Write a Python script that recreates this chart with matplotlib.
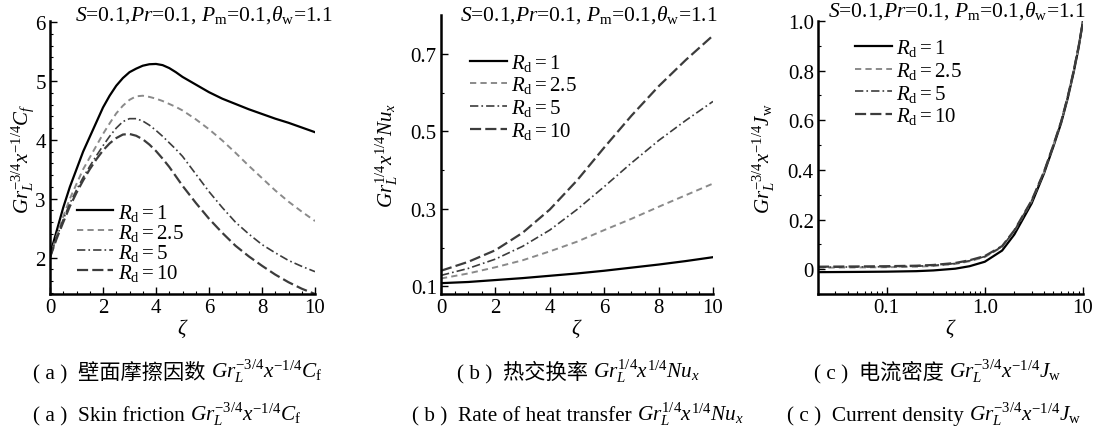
import numpy as np
import matplotlib
matplotlib.use("Agg")
import matplotlib.pyplot as plt
from matplotlib.ticker import MultipleLocator, FixedLocator, NullFormatter, LogLocator
from matplotlib.offsetbox import TextArea, HPacker, AnchoredOffsetbox

plt.rcParams['font.family'] = ['Liberation Serif', 'Noto Sans CJK SC']
plt.rcParams['mathtext.fontset'] = 'custom'
plt.rcParams['mathtext.rm'] = 'Liberation Serif'
plt.rcParams['mathtext.it'] = 'Liberation Serif:italic'
plt.rcParams['mathtext.bf'] = 'Liberation Serif:bold'
plt.rcParams['lines.scale_dashes'] = False

# Daten
rd_labels = [r'$R_{\rm d}=1$', r'$R_{\rm d}=2.5$', r'$R_{\rm d}=5$', r'$R_{\rm d}=10$']

# (a) Wandreibung
xi_a = [0, 0.25, 0.5, 0.75, 1, 1.25, 1.5, 1.75, 2, 2.25, 2.5, 2.75, 3, 3.25, 3.5, 3.75, 4, 4.25, 4.5, 4.75, 5,
        5.5, 6, 6.5, 7, 7.5, 8, 8.5, 9, 9.5, 10]
cf_rd1 = [2.05, 2.45, 2.85, 3.2, 3.5, 3.8, 4.05, 4.3, 4.55, 4.75, 4.92, 5.05, 5.15, 5.21, 5.26, 5.285, 5.29, 5.27, 5.22, 5.15, 5.07,
          4.94, 4.81, 4.7, 4.61, 4.52, 4.44, 4.36, 4.29, 4.21, 4.13]
cf_rd25 = [2.0, 2.37, 2.7, 3.0, 3.25, 3.5, 3.7, 3.9, 4.1, 4.28, 4.45, 4.58, 4.68, 4.74, 4.75, 4.73, 4.7, 4.66, 4.61, 4.56, 4.5,
           4.35, 4.18, 3.99, 3.78, 3.56, 3.35, 3.14, 2.95, 2.78, 2.62]
cf_rd5 = [2.0, 2.34, 2.65, 2.92, 3.15, 3.36, 3.55, 3.73, 3.9, 4.06, 4.2, 4.31, 4.36, 4.36, 4.32, 4.25, 4.16, 4.06, 3.95, 3.84, 3.72,
          3.42, 3.12, 2.85, 2.6, 2.4, 2.22, 2.08, 1.95, 1.85, 1.76]
cf_rd10 = [2.0, 2.32, 2.6, 2.87, 3.1, 3.31, 3.5, 3.67, 3.82, 3.94, 4.03, 4.09, 4.1, 4.07, 4.01, 3.92, 3.81, 3.68, 3.54, 3.38, 3.22,
           2.93, 2.66, 2.42, 2.2, 2.02, 1.86, 1.71, 1.58, 1.47, 1.38]

# (b) Waermeuebergang
xi_b = [0, 1, 2, 3, 4, 5, 6, 7, 8, 9, 10]
nu_rd1 = [0.108, 0.111, 0.116, 0.121, 0.127, 0.133, 0.14, 0.148, 0.156, 0.165, 0.175]
nu_rd25 = [0.12, 0.133, 0.149, 0.167, 0.19, 0.215, 0.245, 0.274, 0.305, 0.335, 0.365]
nu_rd5 = [0.128, 0.146, 0.17, 0.203, 0.245, 0.298, 0.357, 0.418, 0.476, 0.528, 0.577]
nu_rd10 = [0.14, 0.163, 0.193, 0.238, 0.298, 0.373, 0.458, 0.54, 0.616, 0.684, 0.747]

# (c) Stromdichte
xi_c = [0.02, 0.05, 0.1, 0.2, 0.3, 0.5, 0.7, 1, 1.5, 2, 3, 4, 5, 6, 7, 8, 9, 10]
jw_rd1 = [-0.012, -0.011, -0.01, -0.008, -0.005, 0.002, 0.012, 0.03, 0.075, 0.14, 0.265, 0.385, 0.495, 0.59, 0.69, 0.79, 0.89, 1.0]
jw_rd25 = [0.006, 0.007, 0.008, 0.01, 0.013, 0.021, 0.032, 0.049, 0.089, 0.153, 0.274, 0.39, 0.5, 0.595, 0.695, 0.795, 0.895, 1.0]
jw_rd5 = [0.008, 0.009, 0.01, 0.012, 0.015, 0.023, 0.034, 0.051, 0.091, 0.155, 0.276, 0.391, 0.5, 0.595, 0.695, 0.795, 0.895, 1.0]
jw_rd10 = [0.01, 0.011, 0.012, 0.014, 0.017, 0.025, 0.036, 0.053, 0.093, 0.157, 0.277, 0.392, 0.501, 0.596, 0.696, 0.796, 0.896, 1.0]

params = r'$S$=0.1,$Pr$=0.1, $P_{\rm m}$=0.1,$\theta_{\rm w}$=1.1'

# Linienstile
styles = [
    dict(color='black', lw=1.6, linestyle='-'),
    dict(color='#8a8a8a', lw=1.4, dashes=(4.5, 3.0)),
    dict(color='#3c3c3c', lw=1.2, dashes=(6, 2.2, 1.2, 2.2)),
    dict(color='#3c3c3c', lw=1.6, dashes=(8, 3.0)),
]

FS = 15
W, H = 1104, 431
fig = plt.figure(figsize=(W / 100, H / 100), dpi=100)

def px_axes(l, r, t, b):
    return fig.add_axes([l / W, 1 - b / H, (r - l) / W, (b - t) / H])

ax_a = px_axes(50, 315, 22, 295)
ax_b = px_axes(441, 713, 16, 295)
ax_c = px_axes(818, 1083, 22, 295)

def style_axes(ax):
    for s in ['top', 'right']:
        ax.spines[s].set_visible(False)
    for s in ['left', 'bottom']:
        ax.spines[s].set_linewidth(1.8)
    ax.tick_params(which='both', direction='in', labelsize=FS)
    ax.tick_params(which='major', length=5, width=1, pad=3)
    ax.tick_params(which='minor', length=2.5, width=0.8)

legend_kw = dict(loc='upper left', frameon=False, fontsize=FS, handlelength=1.75,
                 handletextpad=0.2, borderpad=0, borderaxespad=0)

# (a)
for y, st, lab in zip([cf_rd1, cf_rd25, cf_rd5, cf_rd10], styles, rd_labels):
    ax_a.plot(xi_a, y, label=lab, **st)
ax_a.set_xlim(0, 10)
ax_a.set_ylim(1.38, 6.02)
ax_a.xaxis.set_major_locator(MultipleLocator(2))
ax_a.xaxis.set_minor_locator(MultipleLocator(0.5))
ax_a.yaxis.set_major_locator(MultipleLocator(1))
ax_a.yaxis.set_minor_locator(MultipleLocator(0.2))
ax_a.set_ylabel(r'$Gr_L^{-3/4}x^{-1/4}C_f$', fontsize=FS, labelpad=-1.5)
ax_a.legend(bbox_to_anchor=(0.102, 0.338), labelspacing=-0.05, **legend_kw)

# (b)
for y, st, lab in zip([nu_rd1, nu_rd25, nu_rd5, nu_rd10], styles, rd_labels):
    ax_b.plot(xi_b, y, label=lab, **st)
ax_b.set_xlim(0, 10)
ax_b.set_ylim(0.08, 0.8)
ax_b.xaxis.set_major_locator(MultipleLocator(2))
ax_b.xaxis.set_minor_locator(MultipleLocator(0.5))
ax_b.yaxis.set_major_locator(FixedLocator([0.1, 0.3, 0.5, 0.7]))
ax_b.yaxis.set_minor_locator(FixedLocator([0.2, 0.4, 0.6]))
ax_b.set_ylabel(r'$Gr_L^{1/4}x^{1/4}Nu_x$', fontsize=FS, labelpad=8)
ax_b.legend(bbox_to_anchor=(0.107, 0.868), labelspacing=0.08, **legend_kw)

# (c)
for y, st, lab in zip([jw_rd1, jw_rd25, jw_rd5, jw_rd10], styles, rd_labels):
    ax_c.plot(xi_c, y, label=lab, **st)
ax_c.set_xscale('log')
ax_c.set_xlim(0.02, 10)
ax_c.set_ylim(-0.1, 1.0)
ax_c.xaxis.set_major_locator(FixedLocator([0.1, 1.0, 10]))
ax_c.set_xticklabels(['0.1', '1.0', '10'])
ax_c.xaxis.set_minor_locator(LogLocator(base=10, subs=np.arange(2, 10)))
ax_c.xaxis.set_minor_formatter(NullFormatter())
ax_c.yaxis.set_major_locator(FixedLocator([0, 0.2, 0.4, 0.6, 0.8, 1.0]))
ax_c.set_yticklabels(['0', '0.2', '0.4', '0.6', '0.8', '1.0'])
ax_c.yaxis.set_minor_locator(MultipleLocator(0.1))
ax_c.set_ylabel(r'$Gr_L^{-3/4}x^{-1/4}J_{\rm w}$', fontsize=FS, labelpad=8)
ax_c.legend(bbox_to_anchor=(0.14, 0.94), labelspacing=0.08, **legend_kw)

for ax in [ax_a, ax_b, ax_c]:
    style_axes(ax)
    ax.set_xlabel(r'$\zeta$', fontsize=FS, labelpad=-0.5)

# Parameterzeile oben
for x0, y0 in [(75, 15), (460, 15), (828, 11)]:
    fig.text(x0 / W, 1 - y0 / H, params, fontsize=15.5, ha='left', va='center')

# Bildunterschriften
def caption(x0, y0, text, math):
    t1 = TextArea(text, textprops=dict(fontsize=15.3, family=['Liberation Serif', 'Noto Sans CJK SC']))
    t2 = TextArea(math, textprops=dict(fontsize=15.3))
    box = HPacker(children=[t1, t2], align='baseline', pad=0, sep=0)
    anch = AnchoredOffsetbox(loc='center left', child=box, pad=0, borderpad=0, frameon=False,
                             bbox_to_anchor=(x0 / W, 1 - y0 / H), bbox_transform=fig.transFigure)
    fig.add_artist(anch)

cf_m = r'$Gr_L^{-3/4}x^{-1/4}C_{\rm f}$'
nu_m = r'$Gr_L^{1/4}x^{1/4}Nu_x$'
jw_m = r'$Gr_L^{-3/4}x^{-1/4}J_{\rm w}$'
caption(33, 372, '( a )  壁面摩擦因数 ', cf_m)
caption(457, 372, '( b )  热交换率 ', nu_m)
caption(814, 372, '( c )  电流密度 ', jw_m)
caption(33, 415, '( a )  Skin friction ', cf_m)
caption(412, 415, '( b )  Rate of heat transfer ', nu_m)
caption(787, 415, '( c )  Current density ', jw_m)

fig.savefig('out.png', dpi=100)
